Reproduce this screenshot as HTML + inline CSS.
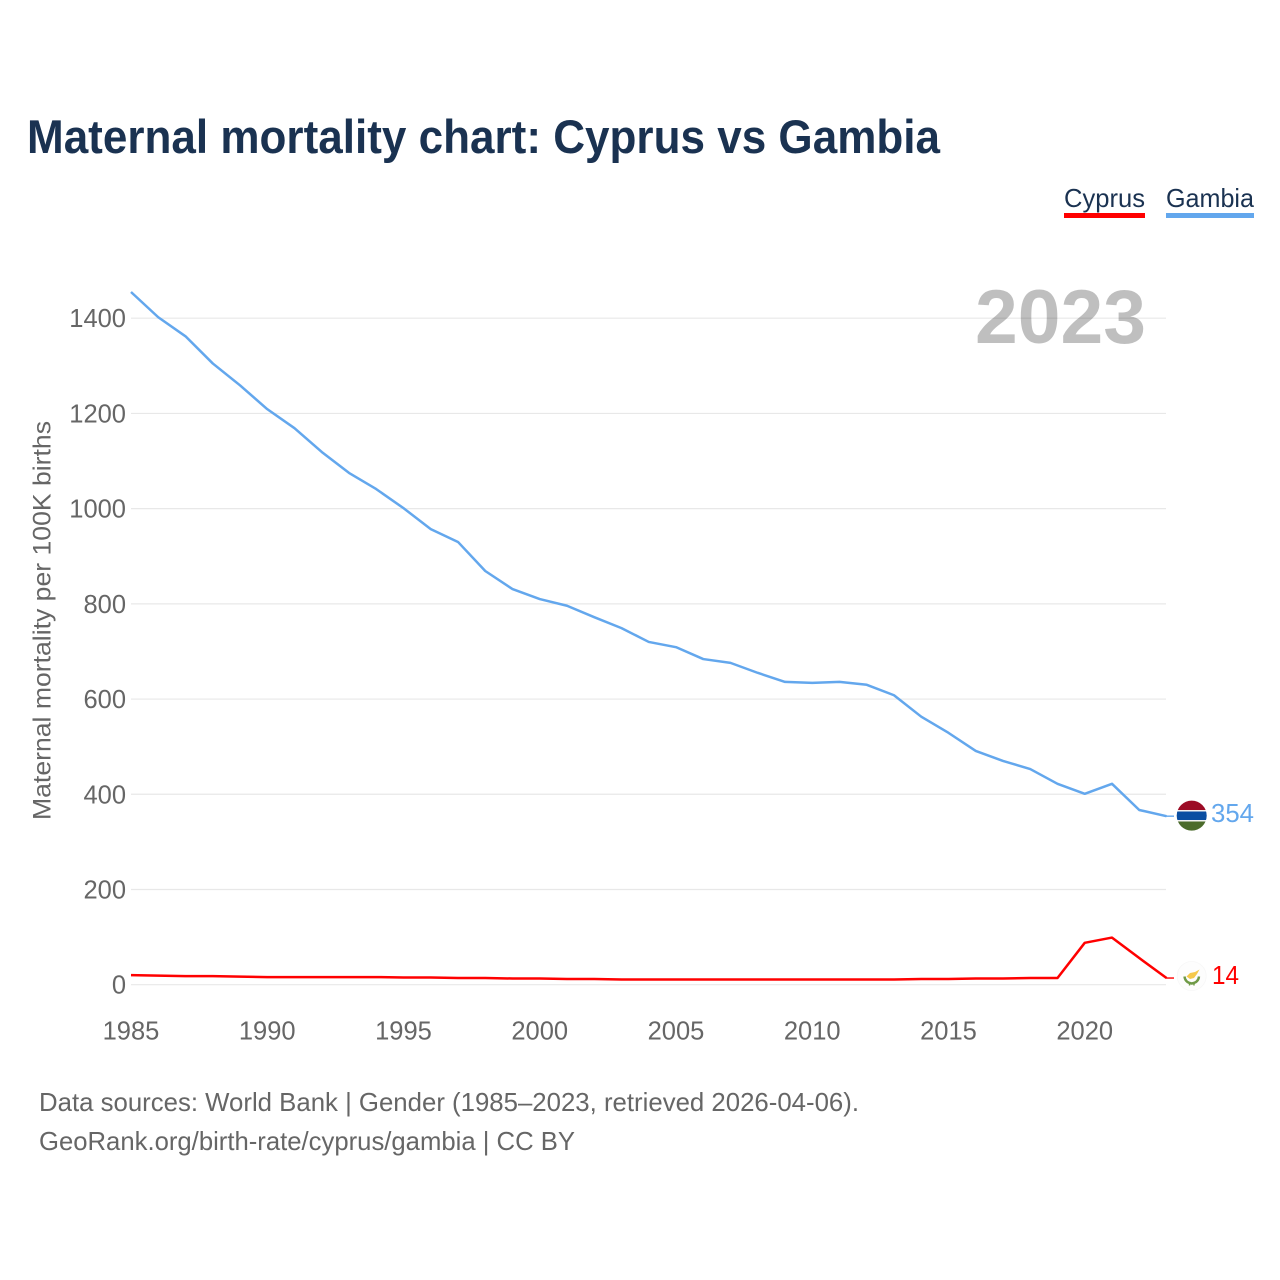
<!DOCTYPE html>
<html lang="en">
<head>
<meta charset="utf-8">
<title>Maternal mortality chart: Cyprus vs Gambia</title>
<style>
html,body{margin:0;padding:0;background:#fff;}
svg{display:block;}
text{font-family:"Liberation Sans",sans-serif;}
</style>
</head>
<body>
<svg id="chart" xmlns="http://www.w3.org/2000/svg" width="1280" height="1280" viewBox="0 0 1280 1280">
  <rect x="0" y="0" width="1280" height="1280" fill="#ffffff"/>
  <text x="27" y="153" font-size="47" font-weight="700" fill="#1a3251" textLength="913" lengthAdjust="spacingAndGlyphs">Maternal mortality chart: Cyprus vs Gambia</text>

  <g id="grid"></g>
  <text x="975" y="343" font-size="76" font-weight="700" fill="#000000" fill-opacity="0.25" textLength="171" lengthAdjust="spacingAndGlyphs">2023</text>
  <g id="yticks"></g>
  <g id="xticks"></g>
  <text transform="translate(50.5 820) rotate(-90)" font-size="25" fill="#666666" textLength="399" lengthAdjust="spacingAndGlyphs">Maternal mortality per 100K births</text>
  <g id="series"></g>

  <g>
    <text x="1064" y="207" font-size="26" fill="#1a3251" textLength="81" lengthAdjust="spacingAndGlyphs">Cyprus</text>
    <rect x="1064" y="213" width="81" height="5" fill="#ff0000"/>
  </g>
  <g>
    <text x="1166" y="207" font-size="26" fill="#1a3251" textLength="88" lengthAdjust="spacingAndGlyphs">Gambia</text>
    <rect x="1166" y="213" width="88" height="5" fill="#63a7ed"/>
  </g>

  <defs>
    <clipPath id="gm-clip"><circle cx="1191.7" cy="815.6" r="15"/></clipPath>
  </defs>
  <g clip-path="url(#gm-clip)">
    <rect x="1176" y="800" width="32" height="10" fill="#9c0b25"/>
    <rect x="1176" y="810" width="32" height="1.5" fill="#f1f1f1"/>
    <rect x="1176" y="811.5" width="32" height="8.5" fill="#0a4ea2"/>
    <rect x="1176" y="820" width="32" height="1.5" fill="#f1f1f1"/>
    <rect x="1176" y="821.5" width="32" height="10" fill="#4b6b2b"/>
  </g>
  <g>
    <circle cx="1191.7" cy="976" r="14.5" fill="#fdfdfd" stroke="#f7f7f7" stroke-width="0.8"/>
    <path d="M1186.5 976.5 L1190 973 L1195 972 L1199.5 969.5 L1197 974 L1194 978 L1190 979 Z" fill="#f6c94a"/>
    <path d="M1184.5 976.5 C1185 981 1188 983 1191.7 983.5 C1195.5 983 1198.5 981 1199 976.5" fill="none" stroke="#6f9a46" stroke-width="2.4"/>
    <path d="M1189.5 983 L1189.5 985.5 M1194 983 L1194 985.5" stroke="#6f9a46" stroke-width="1.4"/>
  </g>
  <text id="gambia-end-label" x="1211" y="822" font-size="26" fill="#63a7ed" textLength="43" lengthAdjust="spacingAndGlyphs"></text>
  <text id="cyprus-end-label" x="1212" y="984" font-size="26" fill="#ff0000" textLength="27" lengthAdjust="spacingAndGlyphs"></text>

  <text x="39" y="1111" font-size="26" fill="#666666" textLength="820" lengthAdjust="spacingAndGlyphs">Data sources: World Bank | Gender (1985–2023, retrieved 2026-04-06).</text>
  <text x="39" y="1150" font-size="26" fill="#666666" textLength="536" lengthAdjust="spacingAndGlyphs">GeoRank.org/birth-rate/cyprus/gambia | CC BY</text>
</svg>
<script>
const years = [1985,1986,1987,1988,1989,1990,1991,1992,1993,1994,1995,1996,1997,1998,1999,2000,2001,2002,2003,2004,2005,2006,2007,2008,2009,2010,2011,2012,2013,2014,2015,2016,2017,2018,2019,2020,2021,2022,2023];
const gambiaValues = [1455,1402,1362,1305,1259,1209,1169,1119,1075,1041,1001,957,930,869,831,810,796,772,749,720,709,684,676,655,636,634,636,630,608,563,529,491,470,453,422,401,422,367,354];
const cyprusValues = [20,19,18,18,17,16,16,16,16,16,15,15,14,14,13,13,12,12,11,11,11,11,11,11,11,11,11,11,11,12,12,13,13,14,14,88,99,56,14];
const yTickValues = [0,200,400,600,800,1000,1200,1400];
const xTickValues = [1985,1990,1995,2000,2005,2010,2015,2020];

const SVG_NS = 'http://www.w3.org/2000/svg';
function xScale(year) { return 131 + (year - 1985) * (1166.5 - 131) / (2023 - 1985); }
function yScale(value) { return 984.7 - value * (984.7 - 318.2) / 1400; }

const gridGroup = document.getElementById('grid');
const yTickGroup = document.getElementById('yticks');
const xTickGroup = document.getElementById('xticks');
const seriesGroup = document.getElementById('series');

yTickValues.forEach(function (value) {
  const line = document.createElementNS(SVG_NS, 'line');
  
  
  line.setAttribute('x1', 131);
  line.setAttribute('x2', 1166);
  line.setAttribute('y1', yScale(value));
  line.setAttribute('y2', yScale(value));
  line.setAttribute('stroke', '#e8e8e8');
  line.setAttribute('stroke-width', 1.2);
  gridGroup.appendChild(line);

  const label = document.createElementNS(SVG_NS, 'text');
  
  
  label.setAttribute('x', 126);
  label.setAttribute('y', yScale(value) + 9);
  label.setAttribute('text-anchor', 'end');
  label.setAttribute('font-size', 25.5);
  label.setAttribute('fill', '#666666');
  label.textContent = value;
  yTickGroup.appendChild(label);
});

xTickValues.forEach(function (year) {
  const label = document.createElementNS(SVG_NS, 'text');
  
  
  label.setAttribute('x', xScale(year));
  label.setAttribute('y', 1039.5);
  label.setAttribute('text-anchor', 'middle');
  label.setAttribute('font-size', 25.5);
  label.setAttribute('fill', '#666666');
  label.textContent = year;
  xTickGroup.appendChild(label);
});

function seriesPoints(values) {
  return values.map(function (value, i) {
    return xScale(years[i]) + ',' + yScale(value);
  }).join(' ');
}

function drawSeries(values, color) {
  const lastY = yScale(values[values.length - 1]);
  const polyline = document.createElementNS(SVG_NS, 'polyline');
  
  polyline.setAttribute('fill', 'none');
  polyline.setAttribute('stroke', color);
  polyline.setAttribute('stroke-width', 2.5);
  polyline.setAttribute('stroke-linejoin', 'round');
  polyline.setAttribute('points', seriesPoints(values));
  seriesGroup.appendChild(polyline);

  const leader = document.createElementNS(SVG_NS, 'line');
  
  leader.setAttribute('x1', 1166);
  leader.setAttribute('x2', 1174);
  leader.setAttribute('y1', lastY);
  leader.setAttribute('y2', lastY);
  leader.setAttribute('stroke', color);
  leader.setAttribute('stroke-width', 1.4);
  seriesGroup.appendChild(leader);
  return { polyline: polyline, leader: leader };
}

const gambiaMarks = drawSeries(gambiaValues, '#63a7ed');


const cyprusMarks = drawSeries(cyprusValues, '#ff0000');



document.getElementById('gambia-end-label').textContent = gambiaValues[gambiaValues.length - 1];
document.getElementById('cyprus-end-label').textContent = cyprusValues[cyprusValues.length - 1];
</script>
</body>
</html>
